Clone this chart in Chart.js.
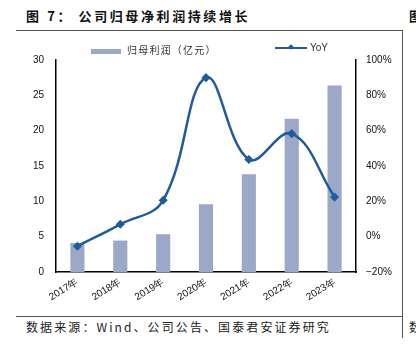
<!DOCTYPE html>
<html>
<head>
<meta charset="utf-8">
<script src="https://cdn.jsdelivr.net/npm/chart.js"></script>
<style>
  body { margin: 0; width: 416px; height: 344px; background: #fff; position: relative; overflow: hidden; font-family: "Noto Sans CJK SC", sans-serif; }
  .title { position: absolute; left: 26px; top: 6px; font-size: 13px; font-weight: bold; color: #111; letter-spacing: 2.6px; white-space: nowrap; }
  .title2 { position: absolute; left: 409px; top: 6px; font-size: 13px; font-weight: bold; color: #111; }
  .hline { position: absolute; left: 16px; width: 386px; height: 1px; background: #555; }
  .vline { position: absolute; left: 402px; top: 30px; width: 1px; height: 308px; background: #555; }
  .source { position: absolute; left: 26px; top: 318px; font-size: 12px; color: #222; letter-spacing: 2.1px; white-space: nowrap; }
  .source2 { position: absolute; left: 409px; top: 318px; font-size: 12px; color: #222; }
  .legend { position: absolute; top: 42px; font-size: 10px; color: #333; white-space: nowrap; z-index: 2; }
  .sw-bar { display: inline-block; width: 30px; height: 5px; background: #9BA8C8; vertical-align: middle; margin-right: 6px; }
  .sw-line { display: inline-block; width: 32px; height: 2px; background: #1F5C99; vertical-align: middle; margin-right: 3px; position: relative; }
  .sw-line::after { content: ''; position: absolute; left: 14px; top: -2px; width: 4px; height: 4px; background: #1F5C99; transform: rotate(45deg); }
  #wrap { position: absolute; left: 0; top: 46px; width: 400px; height: 266px; }
</style>
</head>
<body>
<div class="title">图 7： 公司归母净利润持续增长</div>
<div class="title2">图</div>
<div class="hline" style="top:30px;"></div>
<div class="hline" style="top:316px;"></div>
<div class="vline"></div>
<div id="wrap"><canvas id="chart" width="400" height="266"></canvas></div>
<div class="legend" style="left:91px; letter-spacing: 1.2px;"><span class="sw-bar"></span>归母利润（亿元）</div>
<div class="legend" style="left:275px; font-family: 'Liberation Sans', Arial, sans-serif;"><span class="sw-line"></span>YoY</div>
<div class="source">数据来源：Wind、公司公告、国泰君安证券研究</div>
<div class="source2">数</div>
<script>
// Chart data
const years = ['2017年', '2018年', '2019年', '2020年', '2021年', '2022年', '2023年'];
const netProfit = [4.1, 4.45, 5.35, 9.6, 13.85, 21.7, 26.4];
const yoy = [-5.4, 7.0, 20.6, 90.0, 43.7, 58.3, 22.4];

const tickFont = { family: "'Liberation Sans', Arial, sans-serif", size: 10 };

const ctx = document.getElementById('chart').getContext('2d');
new Chart(ctx, {
    data: {
        labels: years,
        datasets: [
            {
                type: 'line',
                label: 'YoY',
                data: yoy,
                yAxisID: 'y1',
                borderColor: '#1F5C99',
                backgroundColor: '#1F5C99',
                borderWidth: 2.5,
                tension: 0.4,
                pointStyle: 'rectRot',
                pointRadius: 2.8,
                pointBackgroundColor: '#1F5C99',
                order: 0
            },
            {
                type: 'bar',
                label: '归母利润（亿元）',
                data: netProfit,
                yAxisID: 'y',
                backgroundColor: '#9BA8C8',
                categoryPercentage: 1,
                barPercentage: 0.33,
                order: 1
            }
        ]
    },
    options: {
        responsive: false,
        animation: false,
        layout: { padding: { top: 1 } },
        plugins: {
            legend: { display: false },
            tooltip: { enabled: false }
        },
        scales: {
            x: {
                grid: { display: false, drawTicks: false },
                border: { color: '#000', width: 1.5 },
                ticks: { font: tickFont, color: '#111', maxRotation: 32, minRotation: 32, padding: 4 },
                afterFit: (scale) => { scale.height = 40; }
            },
            y: {
                position: 'left',
                min: 0,
                max: 30,
                grid: { display: false, drawTicks: true, tickLength: 4, tickColor: '#000' },
                border: { color: '#000', width: 1.5 },
                ticks: { stepSize: 5, font: tickFont, color: '#111', padding: 8 },
                afterFit: (scale) => { scale.width = 56; }
            },
            y1: {
                position: 'right',
                min: -20,
                max: 100,
                grid: { display: false, drawTicks: true, tickLength: 4, tickColor: '#000' },
                border: { color: '#000', width: 1.5 },
                ticks: {
                    stepSize: 20,
                    font: tickFont,
                    color: '#111',
                    padding: 6,
                    callback: (v) => (v < 0 ? '\u2212' + Math.abs(v) : v) + '%'
                },
                afterFit: (scale) => { scale.width = 44; }
            }
        }
    }
});
</script>
</body>
</html>
